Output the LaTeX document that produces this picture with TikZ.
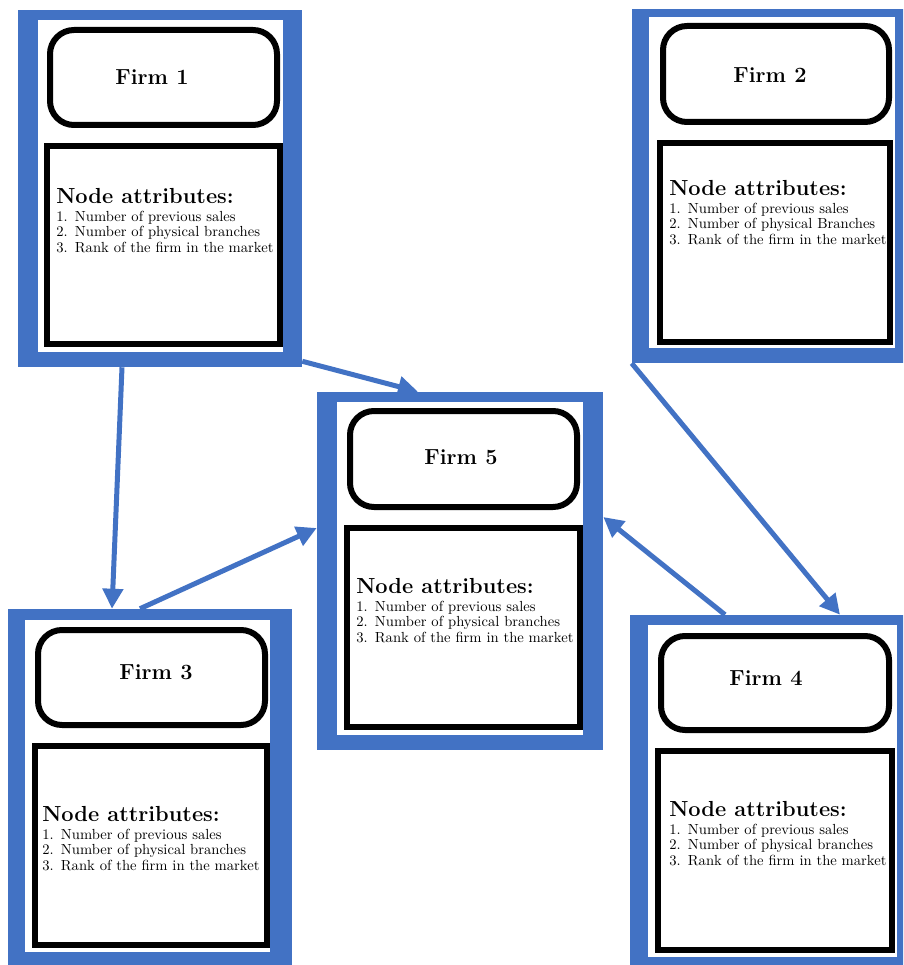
\documentclass[tikz,border=0pt]{standalone}
\usepackage{tikz}
\usetikzlibrary{arrows.meta}
\usetikzlibrary{fit}
\usepackage{xcolor}
\definecolor{firmblue}{RGB}{66,114,196}

\begin{document}
\begin{tikzpicture}[x=0.25mm,y=-0.25mm,
    firmframe/.style={fit={#1},inner sep=0pt,fill=firmblue},
    firmpaper/.style={fit={#1},inner sep=0pt,fill=white},
    namebox/.style={fit={#1},inner sep=0pt,draw,line width=1.5mm,rounded corners=6mm},
    nametext/.style={inner sep=0pt,font=\fontsize{15.5}{18}\bfseries},
    attrbox/.style={fit={#1},inner sep=0pt,draw,line width=1.5mm},
    attrtext/.style={anchor=north west,inner sep=0pt,align=left,font=\fontsize{10.4}{10.9}\selectfont},
    link/.style={->,draw=firmblue,fill=firmblue,line width=1.25mm,>={Triangle[length=5mm,width=5mm]}}]
      \clip (0,0) rectangle (903,965);

      % firm 1
      \node[firmframe={(18,10) (302,367)}] (firm1) {};
      \node[firmpaper={(38,20) (283,352)}] (firm1w) {};
      \node[namebox={(50,30) (277,125)}] (firm1t) {};
      \node[nametext] (firm1n) at (152,77) {Firm 1};
      \node[attrbox={(47,146) (280,344)}] (firm1a) {};
      \node[attrtext] (firm1l) at (56,188) {{\fontsize{15.5}{15.5}\bfseries Node attributes:}\\[2pt]
          1.\enspace Number of previous sales\\ 2.\enspace Number of physical branches\\ 3.\enspace Rank of the firm in the market};

      % firm 2
      \node[firmframe={(632,9) (912,363)}] (firm2) {};
      \node[firmpaper={(649,17) (895,348)}] (firm2w) {};
      \node[namebox={(663,26) (889,122)}] (firm2t) {};
      \node[nametext] (firm2n) at (770,75) {Firm 2};
      \node[attrbox={(660,143) (890,342)}] (firm2a) {};
      \node[attrtext] (firm2l) at (669,180) {{\fontsize{15.5}{15.5}\bfseries Node attributes:}\\[2pt]
          1.\enspace Number of previous sales\\ 2.\enspace Number of physical Branches\\ 3.\enspace Rank of the firm in the market};

      % firm 5
      \node[firmframe={(317,392) (603,750)}] (firm5) {};
      \node[firmpaper={(337,402) (583,735)}] (firm5w) {};
      \node[namebox={(350,411) (577,507)}] (firm5t) {};
      \node[nametext] (firm5n) at (461,457) {Firm 5};
      \node[attrbox={(347,528) (580,727)}] (firm5a) {};
      \node[attrtext] (firm5l) at (356,578) {{\fontsize{15.5}{15.5}\bfseries Node attributes:}\\[2pt]
          1.\enspace Number of previous sales\\ 2.\enspace Number of physical branches\\ 3.\enspace Rank of the firm in the market};

      % firm 3
      \node[firmframe={(8,609) (292,980)}] (firm3) {};
      \node[firmpaper={(25,620) (270,952)}] (firm3w) {};
      \node[namebox={(38,630) (265,725)}] (firm3t) {};
      \node[nametext] (firm3n) at (156,672) {Firm 3};
      \node[attrbox={(35,746) (267,945)}] (firm3a) {};
      \node[attrtext] (firm3l) at (42,806) {{\fontsize{15.5}{15.5}\bfseries Node attributes:}\\[2pt]
          1.\enspace Number of previous sales\\ 2.\enspace Number of physical branches\\ 3.\enspace Rank of the firm in the market};

      % firm 4
      \node[firmframe={(630,615) (912,980)}] (firm4) {};
      \node[firmpaper={(648,625) (897,957)}] (firm4w) {};
      \node[namebox={(661,636) (889,730)}] (firm4t) {};
      \node[nametext] (firm4n) at (766,678) {Firm 4};
      \node[attrbox={(658,751) (892,950)}] (firm4a) {};
      \node[attrtext] (firm4l) at (669,801) {{\fontsize{15.5}{15.5}\bfseries Node attributes:}\\[2pt]
          1.\enspace Number of previous sales\\ 2.\enspace Number of physical branches\\ 3.\enspace Rank of the firm in the market};

      \draw[link] ([shift={(-38,0)}]firm1.south)      -- ([shift={(-38,0)}]firm3.north);
      \draw[link] ([shift={(0,-6)}]firm1.south east)  -- ([shift={(-42,0)}]firm5.north);
      \draw[link] ([shift={(-10,0)}]firm3.north)      -- ([shift={(0,-43)}]firm5.west);
      \draw[link] ([shift={(-46,0)}]firm4.north)      -- ([shift={(0,-54)}]firm5.east);
      \draw[link] (firm2.south west)                  -- ([shift={(69,0)}]firm4.north);
  \end{tikzpicture}
\end{document}
